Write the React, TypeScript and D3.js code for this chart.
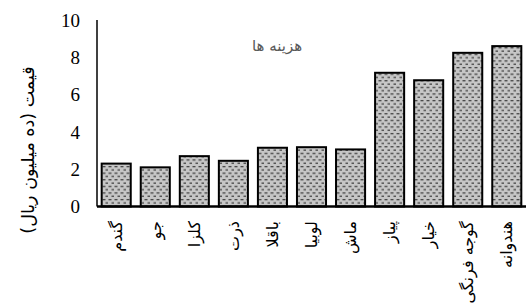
import React from "react";
import * as d3 from "d3";

const categories = ["گندم", "جو", "کلزا", "ذرت", "باقلا", "لوبیا", "ماش", "پیاز", "خیار", "گوجه فرنگی", "هندوانه"];
const values = [2.3, 2.1, 2.7, 2.45, 3.15, 3.18, 3.06, 7.17, 6.77, 8.24, 8.6];
const yTicks = [0, 2, 4, 6, 8, 10];
const seriesName = "هزینه ها";
const yTitle = "قیمت (ده میلیون ریال)";

export default function App() {
  const W = 529, H = 305;
  const x0 = 97, x1 = 526, yTop = 20, yBase = 206.5;
  const y = d3.scaleLinear().domain([0, 10]).range([yBase, yTop]);
  const x = d3.scaleBand<string>().domain(categories).range([x0, x1]).paddingInner(0.256).paddingOuter(0.12);
  return (
    <svg width={W} height={H} style={{ position: "absolute", left: 0, top: 0, background: "#fff" }}>
      <defs>
        <pattern id="dash" patternUnits="userSpaceOnUse" width={6} height={6.6}>
          <rect x={0} y={0} width={6} height={6.6} fill="#c6c6c6" />
          <rect x={0.5} y={1} width={3} height={1.2} fill="#3a3a3a" />
          <rect x={3.5} y={4.3} width={3} height={1.2} fill="#3a3a3a" />
        </pattern>
      </defs>
      {values.map((v, i) => (
        <rect key={i} x={x(categories[i])} y={y(v)} width={x.bandwidth()} height={yBase - y(v)}
          fill="url(#dash)" stroke="#000" strokeWidth={2} />
      ))}
      <line x1={x0} x2={x0} y1={yTop} y2={yBase} stroke="#000" strokeWidth={1.5} />
      <line x1={x0} x2={x1} y1={yBase} y2={yBase} stroke="#000" strokeWidth={2.5} />
      {yTicks.map((t) => (
        <text key={t} x={80} y={y(t)} dy="0.35em" textAnchor="end" style={{ fontFamily: "'Liberation Serif', 'DejaVu Serif', serif" }} fontSize={19} fill="#000">{t}</text>
      ))}
      {categories.map((c) => (
        <text key={c} transform={`translate(${(x(c) as number) + x.bandwidth() / 2},${221}) rotate(-90)`}
          textAnchor="end" dy="0.35em" fontFamily="DejaVu Sans" fontSize={16} fill="#000">{c}</text>
      ))}
      <text transform={`translate(28,150) rotate(-90)`} textAnchor="middle" dy="0.35em" fontFamily="DejaVu Sans" fontSize={17.5} fill="#000">{yTitle}</text>
      <text x={277} y={46} textAnchor="middle" dy="0.35em" fontFamily="DejaVu Sans" fontSize={15} fill="#595959">{seriesName}</text>
    </svg>
  );
}
